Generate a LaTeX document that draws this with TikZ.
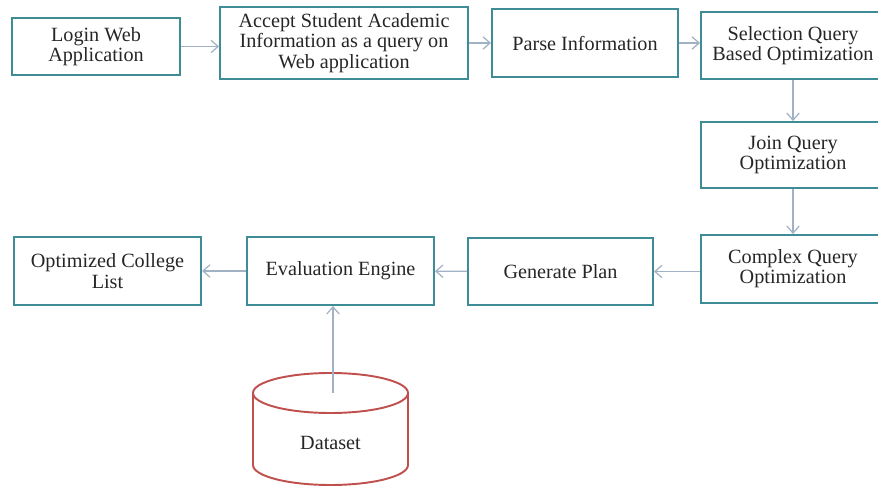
\documentclass[tikz,border=0pt]{standalone}
\usepackage{fontspec}
\setmainfont{Liberation Serif}
\usetikzlibrary{arrows.meta}
\definecolor{boxline}{RGB}{62,140,150}
\definecolor{flowline}{RGB}{160,178,196}
\definecolor{dbline}{RGB}{192,80,77}
\tikzset{
  box/.style={draw=boxline, line width=1.1pt, align=center, inner sep=2pt,
    font=\fontsize{11.5}{11.5}\selectfont, text=black!85},
  flow/.style={draw=flowline, line width=0.7pt, -{Straight Barb[length=4pt,width=7pt]}}
}
\begin{document}
\begin{tikzpicture}
   \useasboundingbox (0,0) rectangle (17.56,-9.74);
   \clip (0,0) rectangle (17.56,-9.74);
   \node[box, minimum width=3.36cm, minimum height=1.14cm] (login) at (1.92, -0.93) {Login Web\\Application};
   \node[box, minimum width=4.96cm, minimum height=1.44cm] (accept) at (6.88, -0.86) {Accept Student Academic\\Information as a query on\\Web application};
   \node[box, minimum width=3.72cm, minimum height=1.36cm] (parse) at (11.70, -0.86) {Parse Information};
   \node[box, minimum width=3.68cm, minimum height=1.34cm] (select) at (15.86, -0.91) {Selection Query\\Based Optimization};
   \node[box, minimum width=3.68cm, minimum height=1.32cm] (join) at (15.86, -3.10) {Join Query\\Optimization};
   \node[box, minimum width=3.68cm, minimum height=1.36cm] (complex) at (15.86, -5.38) {Complex Query\\Optimization};
   \node[box, minimum width=3.70cm, minimum height=1.34cm] (generate) at (11.21, -5.43) {Generate Plan};
   \node[box, minimum width=3.74cm, minimum height=1.36cm] (eval) at (6.81, -5.42) {Evaluation Engine};
   \node[box, minimum width=3.74cm, minimum height=1.36cm] (result) at (2.15, -5.42) {Optimized College\\List};
   % dataset cylinder
   \draw[dbline, line width=1.1pt, fill=white] (5.06,-7.86) -- (5.06,-9.30) arc (180:360:1.55 and 0.40) -- (8.16,-7.86);
   \draw[dbline, line width=1.1pt] (6.61,-7.86) ellipse (1.55 and 0.40);
   \node[font=\fontsize{11.5}{11.5}\selectfont, text=black!85] (db) at (6.61, -8.86) {Dataset};
   \coordinate (dbtop) at (6.66, -7.86);
   \draw[flow] (login) -- (login -| accept.west);
   \draw[flow] (accept) -- (parse);
   \draw[flow] (parse) -- (parse -| select.west);
   \draw[flow] (select) -- (join);
   \draw[flow] (join) -- (complex);
   \draw[flow] (complex.west |- generate) -- (generate);
   \draw[flow] (generate) -- (eval);
   \draw[flow] (eval) -- (result);
   \draw[flow] (dbtop) -- (dbtop |- eval.south);
\end{tikzpicture}
\end{document}
